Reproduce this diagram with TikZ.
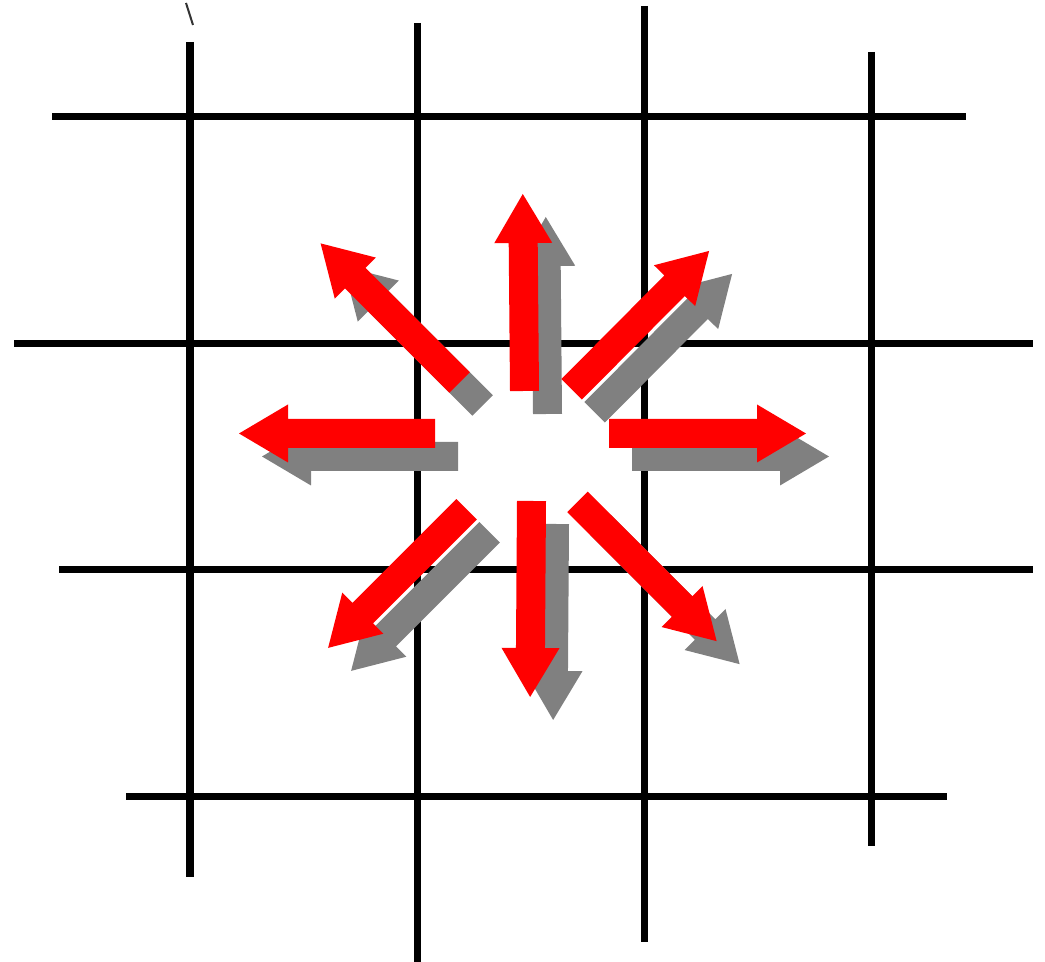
\documentclass[tikz,border=0pt]{standalone}
\usetikzlibrary{calc}
\tikzset{
  gridline/.style={line width=0.07cm, black, line cap=butt},
  redarrow/.style={fill={rgb,255:red,255;green,0;blue,0}},
  shadowarrow/.style={fill={rgb,255:red,128;green,128;blue,128}},
}
% #1 base point, #2 angle, #3 length, #4 style
\newcommand{\blockarr}[4]{%
  \fill[#4, shift={#1}, rotate=#2] (0,-14.5) -- ({#3-49},-14.5) -- ({#3-49},-29) -- (#3,0)
     -- ({#3-49},29) -- ({#3-49},14.5) -- (0,14.5) -- cycle;}
\newcommand{\blockpair}[3]{%
  \blockarr{($#1+(23,23)$)}{#2}{#3}{shadowarrow}}
\begin{document}
\begin{tikzpicture}[x=0.01cm, y=-0.01cm]
\useasboundingbox (0,0) rectangle (1045,962);
% grid
\draw[gridline] (190,42) -- (190,877);
\draw[gridline] (417,23) -- (417,962);
\draw[gridline] (644,6) -- (644,942);
\draw[gridline] (871,52) -- (871,846);
\draw[gridline] (52,117) -- (966,117);
\draw[gridline] (14,344) -- (1033,344);
\draw[gridline] (59,570) -- (1033,570);
\draw[gridline] (126,797) -- (947,797);
% small mark at top
\draw[line width=0.02cm, black!80] (186,3) -- (193,25);
% shadows
\blockpair{(524.5,391)}{90.5}{197}
\blockpair{(531.5,501)}{-90.4}{196}
\blockpair{(609,433.5)}{0}{197}
\blockpair{(435,433.5)}{180}{196}
\blockpair{(459.7,382.5)}{135}{196.7}
\blockpair{(571.7,389.3)}{45.2}{195}
\blockpair{(466.7,509.3)}{-135}{196}
\blockpair{(577.5,502)}{-45}{196.8}
% red arrows
\blockarr{(524.5,391)}{90.5}{197}{redarrow}
\blockarr{(531.5,501)}{-90.4}{196}{redarrow}
\blockarr{(609,433.5)}{0}{197}{redarrow}
\blockarr{(435,433.5)}{180}{196}{redarrow}
\blockarr{(459.7,382.5)}{135}{196.7}{redarrow}
\blockarr{(571.7,389.3)}{45.2}{195}{redarrow}
\blockarr{(466.7,509.3)}{-135}{196}{redarrow}
\blockarr{(577.5,502)}{-45}{196.8}{redarrow}
\end{tikzpicture}
\end{document}
